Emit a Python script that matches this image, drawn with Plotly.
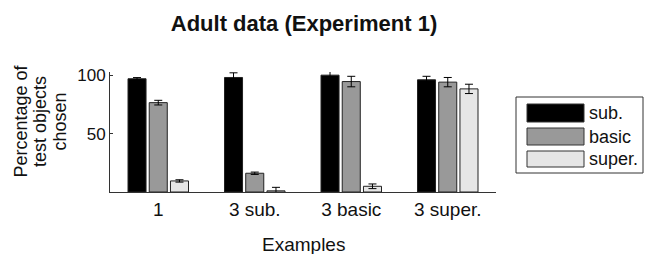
import plotly.graph_objects as go

categories = ["1", "3 sub.", "3 basic", "3 super."]
series_names = ["sub.", "basic", "super."]
sub_vals = [97.2, 98.3, 100.3, 96.3]
sub_err = [1.0, 4.0, 4.0, 3.0]
basic_vals = [76.7, 16.1, 94.8, 94.3]
basic_err = [2.0, 1.0, 4.5, 4.0]
super_vals = [9.5, 1.0, 4.9, 88.5]
super_err = [1.0, 3.0, 2.0, 4.0]
colors = ["#000000", "#999999", "#e6e6e6"]
y_ticks = [50, 100]
y_title_lines = ["Percentage of", "test objects", "chosen"]

W, H = 645, 254
L, R, T, B = 110, 149, 72, 62
pw, ph = W - L - R, H - T - B

fig = go.Figure()
for name, vals, errs, col in zip(series_names, [sub_vals, basic_vals, super_vals],
                                 [sub_err, basic_err, super_err], colors):
    fig.add_trace(go.Bar(
        x=categories, y=vals, name=name,
        marker=dict(color=col, line=dict(color="#222222", width=1)),
        error_y=dict(type="data", array=errs, color="#000000", thickness=1, width=4),
        showlegend=False,
    ))

def px_x(x):
    return (x - L) / pw

def px_y(y):
    return (H - B - y) / ph

shapes = []
annotations = []
# legend box
shapes.append(dict(type="rect", xref="paper", yref="paper",
                   x0=px_x(516), x1=px_x(643), y0=px_y(173), y1=px_y(97),
                   line=dict(color="#333333", width=1), fillcolor="white"))
sw = [(104, 122), (128, 145), (151, 167)]
for (y0, y1), col, name in zip(sw, colors, series_names):
    shapes.append(dict(type="rect", xref="paper", yref="paper",
                       x0=px_x(527), x1=px_x(584), y0=px_y(y1), y1=px_y(y0),
                       line=dict(color="#333333", width=1), fillcolor=col))
    annotations.append(dict(xref="paper", yref="paper", x=px_x(587), y=px_y((y0 + y1) / 2),
                            text=name, showarrow=False, xanchor="left", yanchor="middle",
                            font=dict(size=18, color="#111111")))
# y title (three lines, tighter spacing)
for line, xc in zip(y_title_lines, [20, 39.5, 59]):
    annotations.append(dict(xref="paper", yref="paper", x=px_x(xc), y=px_y(121.5),
                            text=line, showarrow=False,
                            textangle=-90, xanchor="center", yanchor="middle",
                            font=dict(size=18, color="#111111")))
# x title
annotations.append(dict(xref="paper", yref="paper", x=0.5, y=px_y(244),
                        text="Examples", showarrow=False, xanchor="center", yanchor="middle",
                        font=dict(size=19, color="#111111")))

fig.update_layout(
    width=W, height=H,
    margin=dict(l=L, r=R, t=T, b=B),
    paper_bgcolor="white", plot_bgcolor="white",
    font=dict(family="Liberation Sans, Arial, sans-serif", size=16, color="#111111"),
    title=dict(text="<b>Adult data (Experiment 1)</b>", x=304 / W,
               xanchor="center", y=1 - 23 / H, yanchor="middle",
               font=dict(size=22, color="#111111")),
    barmode="group", bargap=0.34, bargroupgap=0.15,
    xaxis=dict(type="category", range=[-0.5, 3.5], showline=True, linecolor="#333333",
               linewidth=1, ticks="", showgrid=False, zeroline=False,
               tickfont=dict(size=19)),
    yaxis=dict(range=[0, 103], tickvals=y_ticks, showline=True, linecolor="#333333",
               linewidth=1, ticks="inside", ticklen=3, tickcolor="#333333",
               showgrid=False, zeroline=False, tickfont=dict(size=17)),
    shapes=shapes, annotations=annotations,
)

fig.write_html("out.html", config={"displayModeBar": False},
               post_script="document.body.style.margin='0';document.body.style.overflow='hidden';")
